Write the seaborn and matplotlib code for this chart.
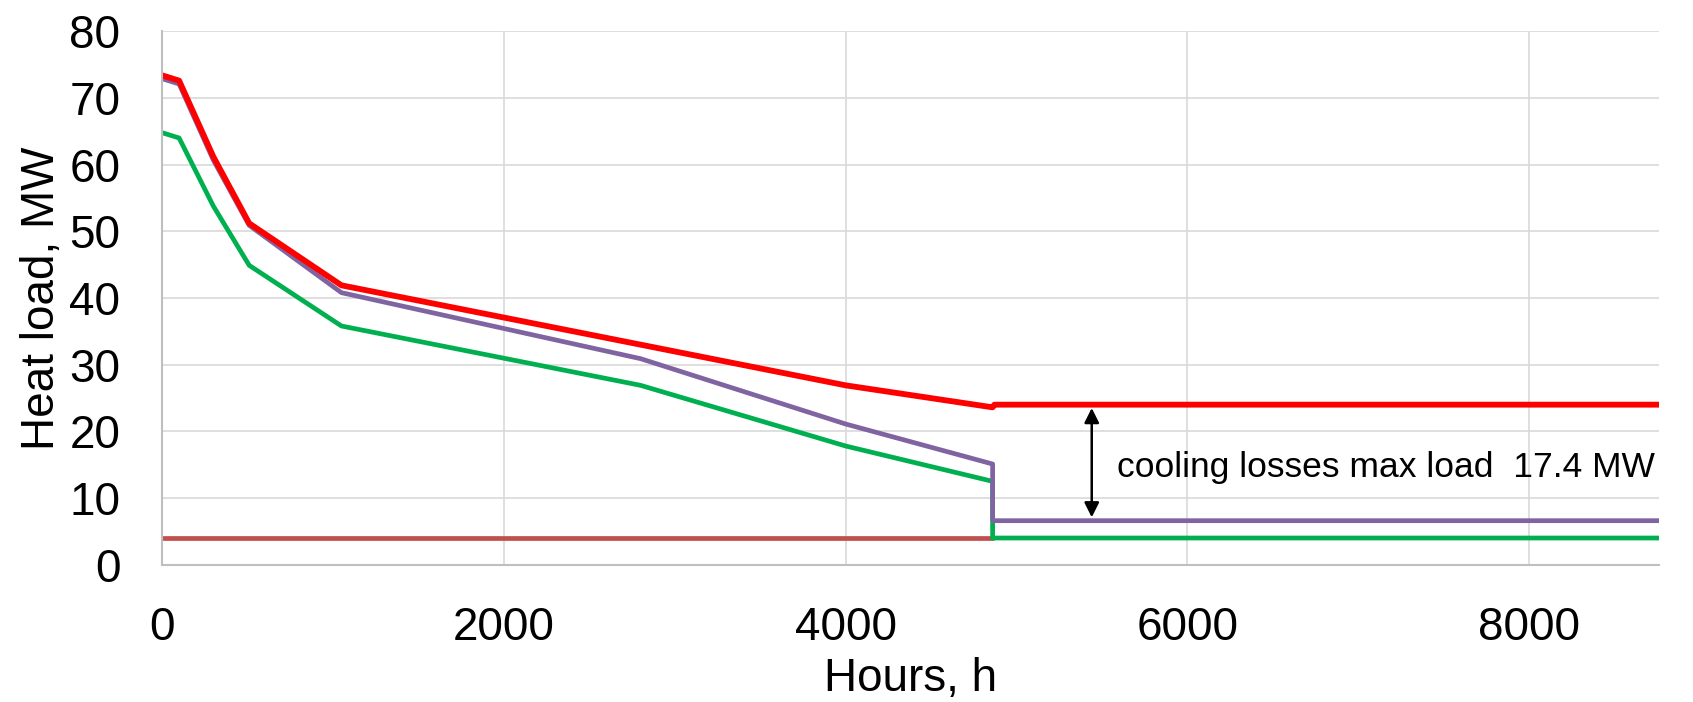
import matplotlib
matplotlib.use("Agg")
import matplotlib.pyplot as plt
import seaborn as sns

# Data
hours = [0, 100, 300, 510, 1050, 2800, 4000, 4860, 4860, 8760]
hours_red = [0, 100, 300, 510, 1050, 4000, 4860, 4870, 8760]
total_load = [73.4, 72.6, 61.2, 51.2, 41.9, 26.9, 23.6, 24.0, 24.0]
purple_load = [72.9, 72.1, 60.7, 50.9, 40.8, 30.9, 21.1, 15.1, 6.6, 6.6]
green_load = [64.8, 64.0, 53.8, 44.9, 35.8, 26.9, 17.8, 12.5, 4.0, 4.0]
base_hours = [0, 4860]
base_load = [4.0, 4.0]

arrow_x = 5440
note = "cooling losses max load  17.4 MW"

sns.set_style("white")
plt.rcParams['font.family'] = ['Liberation Sans', 'DejaVu Sans']
plt.rcParams['text.color'] = 'black'
plt.rcParams['xtick.color'] = 'black'
plt.rcParams['ytick.color'] = 'black'
plt.rcParams['axes.labelcolor'] = 'black'

fig = plt.figure(figsize=(16.93, 7.02), dpi=100)
ax = fig.add_axes([0.0957, 0.1956, 0.8843, 0.7598])

sns.lineplot(x=base_hours, y=base_load, color='#C0504D', lw=3.4,
             estimator=None, sort=False, ax=ax)
sns.lineplot(x=hours, y=green_load, color='#00B050', lw=3.4,
             estimator=None, sort=False, ax=ax)
sns.lineplot(x=hours, y=purple_load, color='#8064A2', lw=3.4,
             estimator=None, sort=False, ax=ax)
sns.lineplot(x=hours_red, y=total_load, color='#FF0000', lw=4.2,
             estimator=None, sort=False, ax=ax)

# gap between red and purple plateaus
ax.annotate('', xy=(arrow_x, purple_load[-1] + 0.5), xytext=(arrow_x, total_load[-1] - 0.5),
            arrowprops=dict(arrowstyle='<|-|>', color='black', lw=1.8, mutation_scale=22,
                            shrinkA=0, shrinkB=0))
ax.text(arrow_x + 150, 14.6, note, fontsize=25.5, va='center', ha='left')

ax.set_xlim(0, 8760)
ax.set_ylim(0, 80)
ax.set_xticks([0, 2000, 4000, 6000, 8000])
ax.set_yticks(range(0, 81, 10))
ax.grid(True, color='#D9D9D9', lw=1.2)
ax.set_axisbelow(True)

for s in ['top', 'right']:
    ax.spines[s].set_visible(False)
for s in ['left', 'bottom']:
    ax.spines[s].set_color('#BFBFBF')
    ax.spines[s].set_linewidth(1.5)

ax.tick_params(axis='x', labelsize=33, pad=30, length=0)
ax.tick_params(axis='y', labelsize=33, pad=30, length=0)
ax.set_xlabel("Hours, h", fontsize=33, labelpad=5)
ax.set_ylabel("Heat load, MW", fontsize=33, labelpad=4)

fig.savefig("out.png", dpi=100)
